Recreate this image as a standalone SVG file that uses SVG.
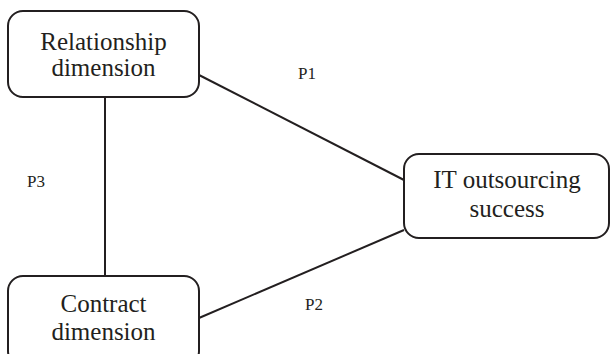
<svg xmlns="http://www.w3.org/2000/svg" width="610" height="354" viewBox="0 0 610 354">
<style>
.box{fill:#fff;stroke:#231f20;stroke-width:2}
.t{font-family:"Liberation Serif","Times New Roman",serif;font-size:25px;fill:#231f20;text-anchor:middle}
.p{font-family:"Liberation Serif","Times New Roman",serif;font-size:17px;fill:#231f20}
.c{stroke:#231f20;stroke-width:2;fill:none}
</style>
<rect width="610" height="354" fill="#fff"/>
<g id="connectors">
<line class="c" x1="199" y1="75" x2="404" y2="180"/>
<line class="c" x1="199" y1="318" x2="404" y2="230"/>
<line class="c" x1="105" y1="97" x2="105" y2="276"/>
</g>
<g id="relationship">
<rect class="box" x="8" y="11" width="191" height="86" rx="15"/>
<text class="t" x="103.5" y="50">Relationship</text>
<text class="t" x="103.5" y="76">dimension</text>
</g>
<g id="contract">
<rect class="box" x="8" y="276" width="191" height="90" rx="15"/>
<text class="t" x="103.5" y="312">Contract</text>
<text class="t" x="103.5" y="340">dimension</text>
</g>
<g id="success">
<rect class="box" x="404" y="154" width="205" height="84" rx="15"/>
<text class="t" x="507" y="188">IT outsourcing</text>
<text class="t" x="507" y="217">success</text>
</g>
<g id="labels">
<text class="p" x="298" y="79">P1</text>
<text class="p" x="27" y="187">P3</text>
<text class="p" x="305" y="310">P2</text>
</g>
</svg>
